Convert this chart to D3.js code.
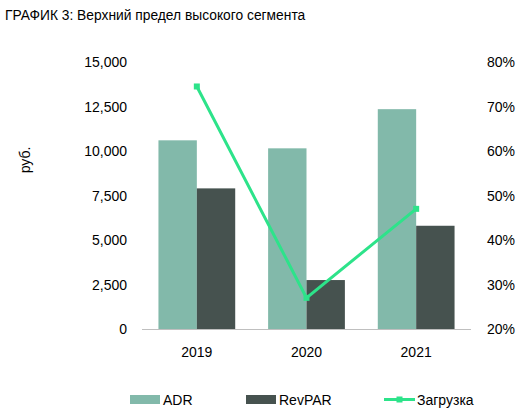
<!DOCTYPE html>
<html><head><meta charset="utf-8">
<script src="https://cdn.jsdelivr.net/npm/d3@7"></script>
<style>body{margin:0;background:#fff;font-family:"Liberation Sans",Arial,sans-serif}</style>
</head><body><svg id="c" width="531" height="414"></svg>
<script>
const years=["2019","2020","2021"];
const adr=[10600,10150,12350];
const revpar=[7900,2750,5800];
const load=[74.5,27,47];
const leftTicks=[0,2500,5000,7500,10000,12500,15000];
const rightTicks=[20,30,40,50,60,70,80];
const svg=d3.select("#c");
const fs="14px";
svg.append("text").attr("x",5).attr("y",20).attr("font-size","13.8px").text("ГРАФИК 3: Верхний предел высокого сегмента");
const x=d3.scaleBand().domain(years).range([142,471]).paddingInner(0.3).paddingOuter(0.15);
const y=d3.scaleLinear().domain([0,15000]).range([329,62]);
const y2=d3.scaleLinear().domain([20,80]).range([329,62]);
const bw=x.bandwidth()/2;
svg.append("g").selectAll("rect").data(adr).join("rect").attr("x",(d,i)=>x(years[i])).attr("y",d=>y(d)).attr("width",bw).attr("height",d=>329-y(d)).attr("fill","#82b9aa");
svg.append("g").selectAll("rect").data(revpar).join("rect").attr("x",(d,i)=>x(years[i])+bw).attr("y",d=>y(d)).attr("width",bw).attr("height",d=>329-y(d)).attr("fill","#46524f");
svg.append("line").attr("x1",142).attr("x2",471).attr("y1",329.5).attr("y2",329.5).attr("stroke","#bfbfbf");
const cx=i=>x(years[i])+x.bandwidth()/2;
svg.append("path").datum(load).attr("d",d3.line().x((d,i)=>cx(i)).y(d=>y2(d))).attr("fill","none").attr("stroke","#2de38a").attr("stroke-width",3);
svg.append("g").selectAll("rect").data(load).join("rect").attr("x",(d,i)=>cx(i)-3).attr("y",d=>y2(d)-3).attr("width",6).attr("height",6).attr("fill","#2de38a");
svg.append("g").selectAll("text").data(leftTicks).join("text").attr("x",127).attr("y",d=>y(d)+5).attr("text-anchor","end").attr("font-size",fs).text(d=>d3.format(",")(d));
svg.append("g").selectAll("text").data(rightTicks).join("text").attr("x",487).attr("y",d=>y2(d)+5).attr("font-size",fs).text(d=>d+"%");
svg.append("g").selectAll("text").data(years).join("text").attr("x",(d,i)=>cx(i)).attr("y",357).attr("text-anchor","middle").attr("font-size",fs).text(d=>d);
svg.append("text").attr("transform","translate(30,160) rotate(-90)").attr("text-anchor","middle").attr("font-size",fs).text("руб.");
const ly=399.5;
svg.append("rect").attr("x",130).attr("y",ly-4.5).attr("width",30).attr("height",9).attr("fill","#82b9aa");
svg.append("text").attr("x",163).attr("y",ly+5).attr("font-size",fs).text("ADR");
svg.append("rect").attr("x",246).attr("y",ly-4.5).attr("width",30).attr("height",9).attr("fill","#46524f");
svg.append("text").attr("x",279).attr("y",ly+5).attr("font-size",fs).text("RevPAR");
svg.append("line").attr("x1",384).attr("x2",415).attr("y1",ly).attr("y2",ly).attr("stroke","#2de38a").attr("stroke-width",3);
svg.append("rect").attr("x",396.5).attr("y",ly-3).attr("width",6).attr("height",6).attr("fill","#2de38a");
svg.append("text").attr("x",417).attr("y",ly+5).attr("font-size",fs).text("Загрузка");
</script></body></html>
